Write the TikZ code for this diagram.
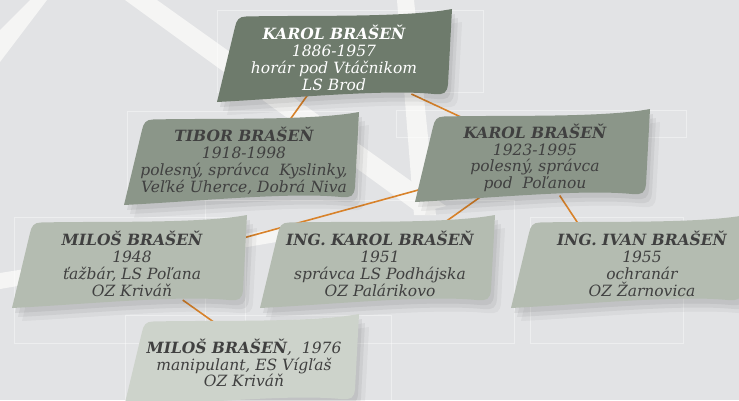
\documentclass[tikz,border=0pt]{standalone}
\usepackage{fontspec}
\setmainfont{DejaVu Serif}
\usepackage{tikz}
\usetikzlibrary{shadows}
\definecolor{backgr}{HTML}{E2E3E5}
\definecolor{band}{HTML}{F5F5F4}
\definecolor{rust}{HTML}{D8822A}
\definecolor{ink}{HTML}{404040}
\definecolor{sage1}{HTML}{6E7B6C}
\definecolor{sage2}{HTML}{8B9689}
\definecolor{sage3}{HTML}{B4BCB1}
\definecolor{sage4}{HTML}{CDD3CB}
\pgfdeclarelayer{stripes}
\pgfdeclarelayer{links}
\pgfdeclarelayer{flags}
\pgfsetlayers{stripes,links,flags,main}
\tikzset{person/.style = {align = center, font = \fontsize{15.5}{16.8}\selectfont\itshape, text = ink}}
\tikzset{link/.style = {draw = rust, line width = 1.6}}
\tikzset{stripe/.style = {fill = band}}
\tikzset{guide/.style = {draw = white, opacity = 0.4, line width = 0.5}}
\tikzset{flagshadow/.style = {drop shadow = {shadow xshift = 3pt, shadow yshift = -5pt, opacity = 0.06, fill = black},
                              drop shadow = {shadow xshift = 6pt, shadow yshift = -9pt, opacity = 0.05, fill = black},
                              drop shadow = {shadow xshift = 10pt, shadow yshift = -13pt, opacity = 0.04, fill = black}}}
% flag shaped card behind a person node
\newcommand{\flag}[3][-3]{%
  \begin{pgfonlayer}{flags}
    \fill [#3, flagshadow, shift = {(#2)}, xshift = #1, yshift = 2]
      (-117,46) -- (-99,-29) .. controls (-97.5,-36) and (-95,-39.5) .. (-88,-39.5)
      .. controls (-30,-41) and (70,-38) .. (118,-47) -- (114,28)
      .. controls (113,37) and (110,39) .. (100,38)
      .. controls (50,33) and (-40,42) .. (-117,46) -- cycle;
  \end{pgfonlayer}}

\begin{document}
\begin{tikzpicture}[x = 1pt, y = -1pt]
  \useasboundingbox (0,0) rectangle (739,400);
  \clip (0,0) rectangle (739,400);
  \begin{pgfonlayer}{stripes}
    \fill [backgr] (0,0) rectangle (739,400);
    \fill [stripe] (0,30) -- (30,0) -- (47,0) -- (0,62) -- cycle;
    \fill [stripe] (125,0) -- (157,0) -- (446,206) -- (418,213) -- cycle;
    \fill [stripe] (397,0) -- (414,0) -- (436,215) -- (414,215) -- cycle;
    \fill [stripe] (0,273) -- (300,225) -- (300,238) -- (0,289) -- cycle;
    \draw [guide] (217,10) rectangle (483,92);
    \draw [guide] (127,111) rectangle (358,200);
    \draw [guide] (396,110) rectangle (686,137);
    \draw [guide] (14,217) rectangle (245,343);
    \draw [guide] (205,200) rectangle (514,343);
    \draw [guide] (530,217) rectangle (683,343);
    \draw [guide] (125,315) rectangle (391,400);
  \end{pgfonlayer}

  \node [person, text = white] (top) at (334,58) {\textbf{KAROL BRAŠEŇ}\\1886-1957\\horár pod Vtáčnikom\\LS Brod};
  \node [person] (tibor) at (244,161) {\textbf{TIBOR BRAŠEŇ}\\1918-1998\\polesný, správca\ \ Kyslinky,\\Veľké Uherce, Dobrá Niva};
  \node [person] (karol) at (535,158) {\textbf{KAROL BRAŠEŇ}\\1923-1995\\polesný, správca\\pod\ \ Poľanou};
  \node [person] (milos) at (132,264) {\textbf{MILOŠ BRAŠEŇ}\\1948\\ťažbár, LS Poľana\\OZ Kriváň};
  \node [person] (ingkarol) at (380,264) {\textbf{ING. KAROL BRAŠEŇ}\\1951\\správca LS Podhájska\\OZ Palárikovo};
  \node [person] (ivan) at (642,264) {\textbf{ING. IVAN BRAŠEŇ}\\1955\\ochranár\\OZ Žarnovica};
  \node [person] (milosjr) at (244,363) {\textbf{MILOŠ BRAŠEŇ},\ \ 1976\\manipulant, ES Vígľaš\\OZ Kriváň};

  \flag[0]{top}{sage1}
  \flag{tibor}{sage2}
  \flag{karol}{sage2}
  \flag{milos}{sage3}
  \flag{ingkarol}{sage3}
  \flag[-14]{ivan}{sage3}
  \flag{milosjr}{sage4}

  \begin{pgfonlayer}{links}
    \draw [link] ([shift = {(-3,28)}]top) -- ([shift = {(40,-30)}]tibor);
    \draw [link] ([shift = {(73,28)}]top) -- ([shift = {(-73,-27)}]karol);
    \draw [link] ([shift = {(-95,40)}]karol) -- ([shift = {(98,-41)}]milos);
    \draw [link] ([shift = {(-32,28)}]karol) -- ([shift = {(75,-33)}]ingkarol);
    \draw [link] ([shift = {(-25,28)}]karol) -- ([shift = {(-72,-33)}]ivan);
    \draw [link] ([shift = {(82,27)}]milos) -- ([shift = {(-63,-27)}]milosjr);
  \end{pgfonlayer}
\end{tikzpicture}
\end{document}
